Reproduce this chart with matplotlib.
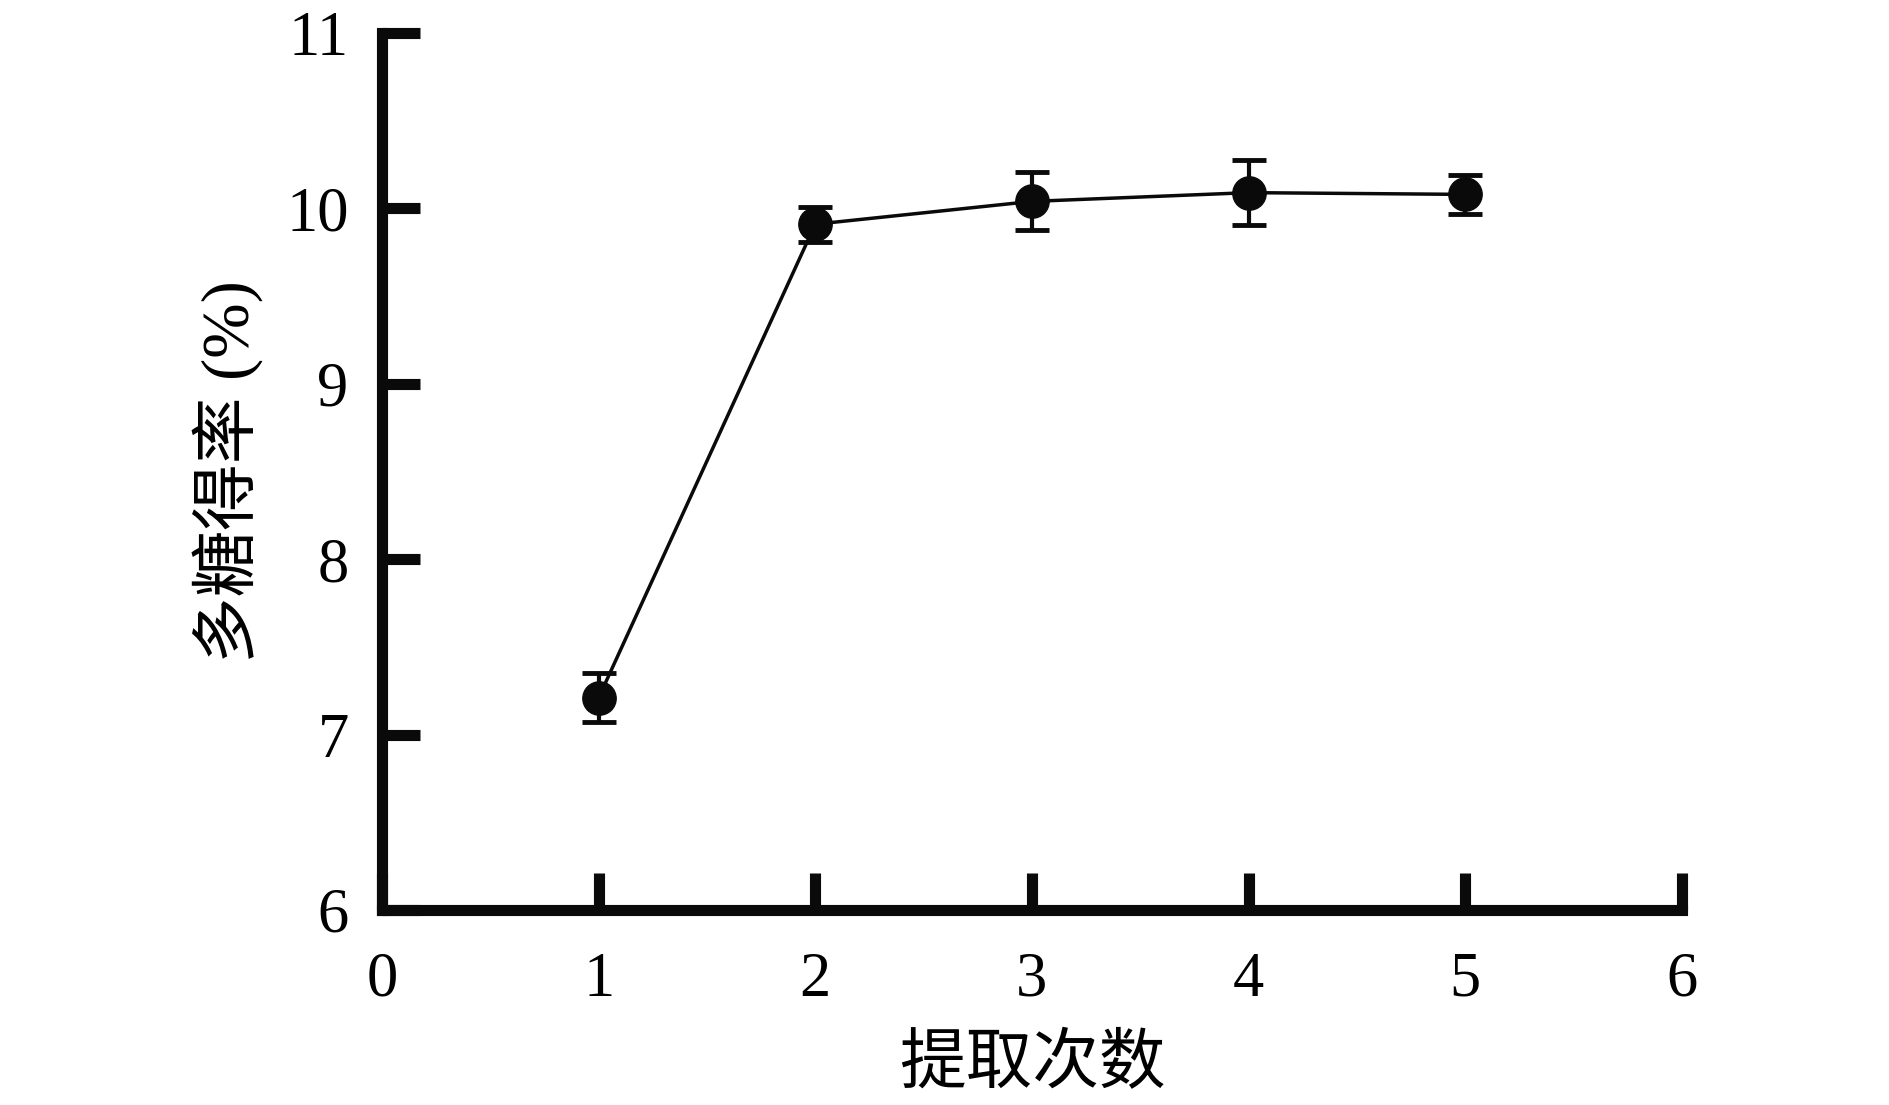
import matplotlib
matplotlib.use('Agg')
import matplotlib.pyplot as plt

# extraction times vs polysaccharide yield
times = [1, 2, 3, 4, 5]
yield_pct = [7.21, 9.91, 10.04, 10.09, 10.08]
yield_err = [0.14, 0.10, 0.165, 0.185, 0.11]

xticks = [0, 1, 2, 3, 4, 5, 6]
yticks = [6, 7, 8, 9, 10, 11]

fonts = ['Liberation Serif', 'Noto Sans CJK SC', 'DejaVu Sans']
plt.rcParams['font.family'] = fonts

fig = plt.figure(figsize=(18.9, 11.05), dpi=100)
ax = fig.add_axes([0.2021, 0.1765, 0.6878, 0.7936])

ax.errorbar(times, yield_pct, yerr=yield_err, color='#0a0a0a', lw=2.5,
            marker='o', ms=24, elinewidth=3, capsize=12, capthick=3.5)

ax.set_xlim(0, 6)
ax.set_ylim(6, 11)
ax.set_xticks(xticks)
ax.set_yticks(yticks)

for side in ['top', 'right']:
    ax.spines[side].set_visible(False)
for side in ['left', 'bottom']:
    ax.spines[side].set_linewidth(8)
    ax.spines[side].set_capstyle('projecting')
    ax.spines[side].set_color('#0a0a0a')

ax.tick_params(direction='in', length=27, width=8, color='#0a0a0a', labelsize=45)
ax.tick_params(axis='x', pad=30)
ax.tick_params(axis='y', pad=24)

ax.set_xlabel('提取次数', fontsize=48, labelpad=18)
ax.set_ylabel('多糖得率 (%)', fontsize=48, labelpad=16)

fig.savefig('out.png', dpi=100)
